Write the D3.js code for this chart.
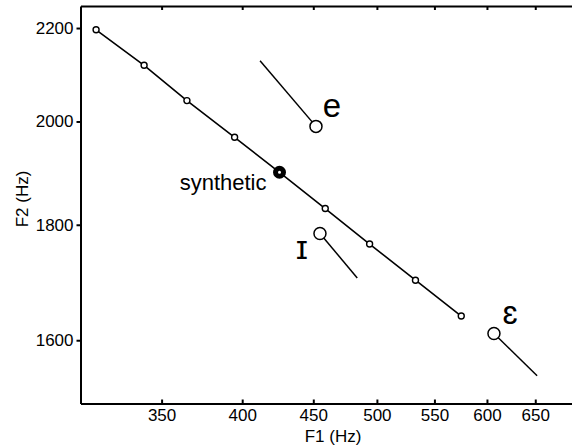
<!DOCTYPE html>
<html>
<head>
<meta charset="utf-8">
<script src="https://cdn.jsdelivr.net/npm/d3@7"></script>
<style>
  body { margin: 0; background: #fff; }
  text { font-family: "Liberation Sans", Arial, Helvetica, sans-serif; fill: #000; }
</style>
</head>
<body>
<div id="container"></div>
<script>
var width = 572, height = 447;

// continuum of synthetic stimuli (F1, F2 in Hz)
var f1 = [314, 340, 365, 395, 425.5, 459, 494, 533, 575],
    f2 = [2196, 2118, 2043, 1968, 1899, 1830, 1765, 1701, 1640],
    synthIndex = 4;

// natural vowels: marker point and the end of the tail
var vowels = ['e', 'ɪ', 'ɛ'],
    vowelF1 = [452, 455, 607],
    vowelF2 = [1990, 1784, 1611],
    tailF1 = [412, 484, 652],
    tailF2 = [2128, 1705, 1543];

var xTicks = [350, 400, 450, 500, 550, 600, 650],
    yTicks = [1600, 1800, 2000, 2200];

var svg = d3.select('#container').append('svg')
    .attr('width', width)
    .attr('height', height);

/*x scale (log)*/
var xScale = d3.scaleLog()
    .domain([306, 700])
    .range([80.5, 580]);

/*y scale (log)*/
var yScale = d3.scaleLog()
    .domain([1500, 2250])
    .range([403.5, 6]);

// bottom axis, ticks point inward
svg.append('g')
    .attr('transform', 'translate(0,403.5)')
    .call(d3.axisBottom(xScale).tickValues(xTicks).tickFormat(d3.format('d'))
        .tickSizeInner(-4).tickSizeOuter(0).tickPadding(5))
    .call(g => g.select('.domain').attr('stroke-width', 2))
    .call(g => g.selectAll('.tick line').attr('stroke-width', 2))
    .call(g => g.selectAll('text').style('font-size', '17px').attr('fill', '#000'));

// top frame line
svg.append('g')
    .attr('transform', 'translate(0,6)')
    .call(d3.axisTop(xScale).tickValues(xTicks).tickFormat('')
        .tickSizeInner(-4).tickSizeOuter(0))
    .call(g => g.select('.domain').attr('stroke-width', 2))
    .call(g => g.selectAll('.tick line').attr('stroke-width', 2));

// left axis
svg.append('g')
    .attr('transform', 'translate(80.5,0)')
    .call(d3.axisLeft(yScale).tickValues(yTicks).tickFormat(d3.format('d'))
        .tickSizeInner(4).tickSizeOuter(0).tickPadding(3))
    .call(g => g.select('.domain').attr('stroke-width', 2))
    .call(g => g.selectAll('.tick line').attr('stroke-width', 2))
    .call(g => g.selectAll('text').style('font-size', '17px').attr('fill', '#000'));

// axis titles
svg.append('text')
    .attr('x', 333).attr('y', 442)
    .attr('text-anchor', 'middle')
    .style('font-size', '17px')
    .text('F1 (Hz)');

svg.append('text')
    .attr('transform', 'translate(28,199) rotate(-90)')
    .attr('text-anchor', 'middle')
    .style('font-size', '17px')
    .text('F2 (Hz)');

var stim = f1.map((d, i) => ({f1: d, f2: f2[i]}));

// continuum line
svg.append('path')
    .datum(stim)
    .attr('fill', 'none')
    .attr('stroke', '#000')
    .attr('stroke-width', 1.6)
    .attr('d', d3.line().x(d => xScale(d.f1)).y(d => yScale(d.f2)));

// vowel tails
var vow = vowels.map((v, i) => ({label: v, f1: vowelF1[i], f2: vowelF2[i], t1: tailF1[i], t2: tailF2[i]}));

svg.selectAll('line.tail').data(vow)
    .enter().append('line')
        .attr('class', 'tail')
        .attr('x1', d => xScale(d.f1))
        .attr('y1', d => yScale(d.f2))
        .attr('x2', d => xScale(d.t1))
        .attr('y2', d => yScale(d.t2))
        .attr('stroke', '#000')
        .attr('stroke-width', 1.5);

svg.selectAll('circle.vowel').data(vow)
    .enter().append('circle')
        .attr('class', 'vowel')
        .attr('cx', d => xScale(d.f1))
        .attr('cy', d => yScale(d.f2))
        .attr('r', 6)
        .style('fill', 'white')
        .style('stroke', '#000')
        .style('stroke-width', 1.5);

// vowel labels (offsets relative to the marker)
var labelOff = [[16, -9], [-18, 25], [16, -10]];
svg.selectAll('text.vowel').data(vow)
    .enter().append('text')
        .attr('class', 'vowel')
        .attr('x', (d, i) => xScale(d.f1) + labelOff[i][0])
        .attr('y', (d, i) => yScale(d.f2) + labelOff[i][1])
        .attr('text-anchor', 'middle')
        .style('font-size', '33px')
        .text(d => d.label);

// small markers on the continuum
svg.selectAll('circle.stim').data(stim.filter((d, i) => i !== synthIndex))
    .enter().append('circle')
        .attr('class', 'stim')
        .attr('cx', d => xScale(d.f1))
        .attr('cy', d => yScale(d.f2))
        .attr('r', 3)
        .style('fill', 'white')
        .style('stroke', '#000')
        .style('stroke-width', 1.4);

// synthetic stimulus
var s = stim[synthIndex];
svg.append('circle')
    .attr('cx', xScale(s.f1)).attr('cy', yScale(s.f2))
    .attr('r', 4)
    .style('fill', 'white')
    .style('stroke', '#000')
    .style('stroke-width', 5);

svg.append('text')
    .attr('x', xScale(s.f1) - 13)
    .attr('y', yScale(s.f2) + 18)
    .attr('text-anchor', 'end')
    .style('font-size', '22px')
    .text('synthetic');
</script>
</body>
</html>
